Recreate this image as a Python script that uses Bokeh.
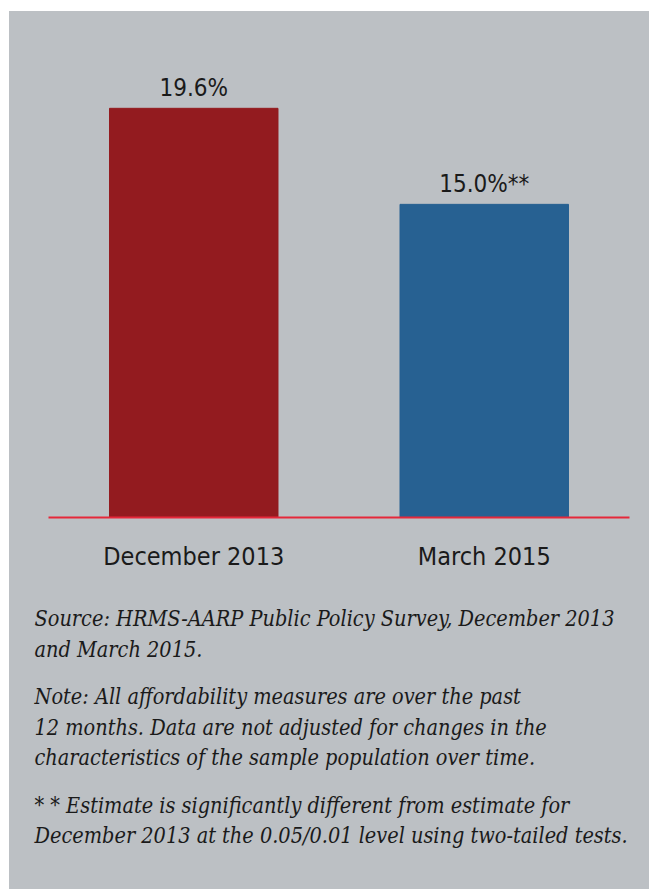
from bokeh.plotting import figure
from bokeh.models import FactorRange, Range1d, Spacer, ColumnDataSource
from bokeh.layouts import column, row
from bokeh.core.properties import value
from bokeh.embed import file_html
from bokeh.resources import INLINE

# ---- data ----
categories = ["December 2013", "March 2015"]
values = [19.6, 15.0]
value_labels = ["19.6%", "15.0%**"]
bar_colors = ["#931B1F", "#276192"]
note_paragraphs = [
    ["Source: HRMS-AARP Public Policy Survey, December 2013",
     "and March 2015."],
    ["Note: All affordability measures are over the past",
     "12 months. Data are not adjusted for changes in the",
     "characteristics of the sample population over time."],
    ["* * Estimate is significantly different from estimate for",
     "December 2013 at the 0.05/0.01 level using two-tailed tests."],
]

BG = "#BCC0C4"
W = 640
H1 = 588
H2 = 290
TEXT = "#1A1A1A"
SANS = "DejaVu Sans Condensed"
SERIF = "DejaVu Serif Condensed"

p = figure(x_range=FactorRange(*categories), y_range=Range1d(0, 23.28),
           width=W, height=H1, output_backend="svg", toolbar_location=None,
           y_axis_location=None,
           min_border_left=39, min_border_right=20, min_border_top=20,
           min_border_bottom=82)
p.frame_align = False
p.background_fill_alpha = 0
p.border_fill_alpha = 0
p.outline_line_color = None
p.xgrid.grid_line_color = None
p.ygrid.grid_line_color = None

src = ColumnDataSource(dict(cat=categories, val=values, lab=value_labels, col=bar_colors))
p.vbar(x="cat", top="val", width=0.58, color="col", source=src)
p.text(x="cat", y="val", text="lab", source=src, text_align="center",
       text_baseline="bottom", y_offset=-6, text_font=value(SANS),
       text_font_size="24px", text_color=TEXT)

ax = p.xaxis[0]
ax.axis_line_color = "#E5283A"
ax.axis_line_width = 2
ax.major_tick_line_color = None
ax.minor_tick_line_color = None
ax.major_label_text_font = SANS
ax.major_label_text_font_size = "25px"
ax.major_label_text_color = TEXT
ax.major_label_standoff = 18

# notes figure: ranges in pixels, y measured from the top of this figure
q = figure(x_range=Range1d(0, W), y_range=Range1d(H2, 0), width=W, height=H2,
           output_backend="svg", toolbar_location=None,
           x_axis_location=None, y_axis_location=None,
           min_border=0, min_border_left=0, min_border_right=0,
           min_border_top=0, min_border_bottom=0)
q.frame_align = False
q.background_fill_alpha = 0
q.border_fill_alpha = 0
q.outline_line_color = None
q.xgrid.grid_line_color = None
q.ygrid.grid_line_color = None

lines, ys = [], []
y = 19.0
for pi, para in enumerate(note_paragraphs):
    if pi > 0:
        y += 47.5
    for li, line in enumerate(para):
        if li > 0:
            y += 30.5
        lines.append(line)
        ys.append(y)
q.text(x=[25] * len(lines), y=ys, text=lines, text_font=value(SERIF),
       text_font_style="italic", text_font_size="21.5px", text_color=TEXT,
       text_baseline="alphabetic", text_align="left")

panel = column(p, q, styles={"background-color": BG})
layout = column(Spacer(height=11), row(Spacer(width=9), panel))
open("out.html", "w").write(file_html(layout, INLINE))
